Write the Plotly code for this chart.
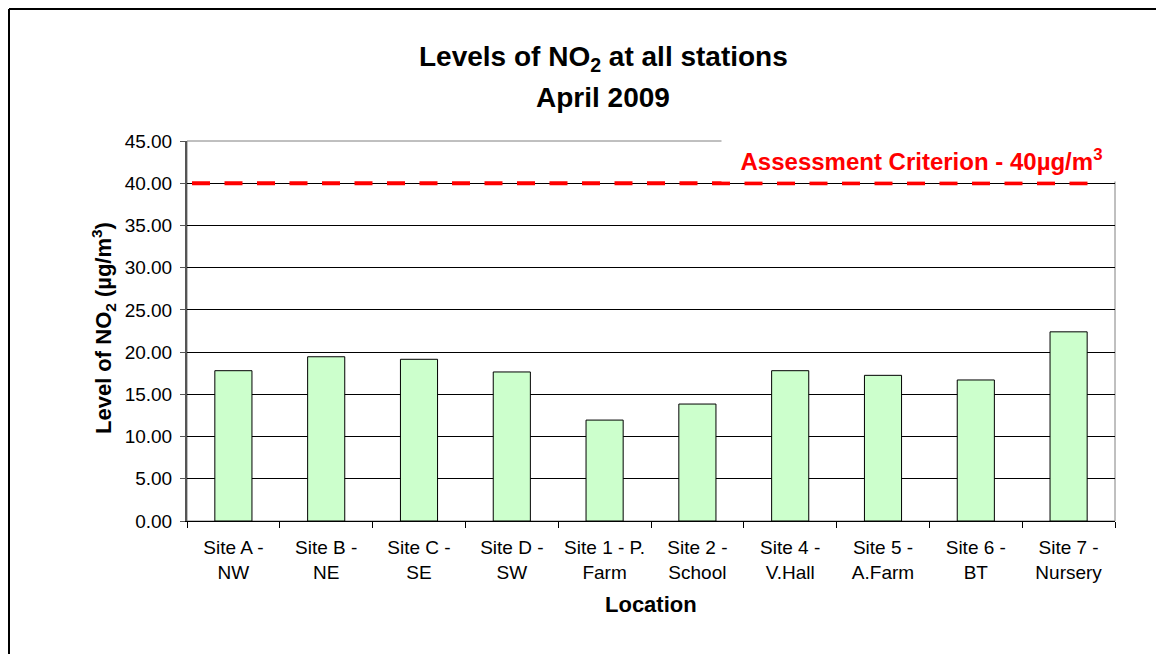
import plotly.graph_objects as go

categories = ["Site A -<br>NW", "Site B -<br>NE", "Site C -<br>SE", "Site D -<br>SW",
              "Site 1 - P.<br>Farm", "Site 2 -<br>School", "Site 4 -<br>V.Hall",
              "Site 5 -<br>A.Farm", "Site 6 -<br>BT", "Site 7 -<br>Nursery"]
no2_levels = [17.8, 19.45, 19.15, 17.65, 11.95, 13.85, 17.8, 17.25, 16.7, 22.4]
criterion = 40
y_ticks = [0, 5, 10, 15, 20, 25, 30, 35, 40, 45]

# page geometry (the page body has an 8px margin)
OFF = 8
W, H = 1164, 654
L, R, T, B = 187, 1115, 141, 521
PW, PH = R - L, B - T

def px(x):
    return (x - L) / PW

def py(y):
    return (B - y) / PH

FONT = "Liberation Sans, Arial, sans-serif"

fig = go.Figure()
fig.add_trace(go.Bar(
    x=categories, y=no2_levels,
    marker=dict(color="#CCFFCC", line=dict(color="black", width=1)),
    hoverinfo="x+y",
))

fig.update_layout(
    width=W - OFF, height=H - OFF,
    margin=dict(l=L - OFF, r=W - R, t=T - OFF, b=H - B, pad=0),
    paper_bgcolor="white", plot_bgcolor="white",
    showlegend=False, bargap=0.6,
    font=dict(family=FONT, size=19, color="black"),
    xaxis=dict(
        type="category", tickson="boundaries", ticks="outside", ticklen=6,
        tickcolor="black", showline=True, linecolor="black", linewidth=1,
        showgrid=False, tickfont=dict(size=19), ticklabelstandoff=9,
    ),
    yaxis=dict(
        range=[0, 45], tickvals=y_ticks, tickformat=".2f",
        ticks="outside", ticklen=5, tickcolor="#555", showline=True,
        linecolor="#555", linewidth=2, showgrid=True, gridcolor="black",
        gridwidth=1, zeroline=False, tickfont=dict(size=19), ticklabelstandoff=4,
    ),
)

shapes = [
    # plot area border
    dict(type="rect", xref="paper", yref="paper", x0=0, x1=1, y0=0, y1=1,
         line=dict(color="#808080", width=1), layer="below"),
    # criterion line
    dict(type="line", xref="paper", yref="y", x0=px(192), x1=px(1098),
         y0=criterion, y1=criterion,
         line=dict(color="#FF0000", width=4, dash="18px,14.5px")),
    # outer chart border (top and left)
    dict(type="line", xref="paper", yref="paper", x0=px(9), x1=px(1170),
         y0=py(9), y1=py(9), line=dict(color="black", width=2)),
    dict(type="line", xref="paper", yref="paper", x0=px(9), x1=px(9),
         y0=py(9), y1=py(660), line=dict(color="black", width=2)),
]
fig.update_layout(shapes=shapes)

annotations = [
    dict(text="<b>Levels of NO<sub>2</sub> at all stations</b>", xref="paper", yref="paper",
         x=px(603), y=py(58), xanchor="center", yanchor="middle", showarrow=False,
         font=dict(size=28, family=FONT)),
    dict(text="<b>April 2009</b>", xref="paper", yref="paper",
         x=px(603), y=py(97), xanchor="center", yanchor="middle", showarrow=False,
         font=dict(size=28, family=FONT)),
    dict(text="<b>Level of NO<sub>2</sub> (µg/m<sup>3</sup>)</b>", xref="paper", yref="paper",
         x=px(103), y=py(328), xanchor="center", yanchor="middle", textangle=-90,
         showarrow=False, font=dict(size=22, family=FONT)),
    dict(text="<b>Location</b>", xref="paper", yref="paper",
         x=0.5, y=py(604), xanchor="center", yanchor="middle", showarrow=False,
         font=dict(size=22, family=FONT)),
    dict(text="<b>Assessment Criterion - %dµg/m<sup>3</sup></b>" % criterion,
         xref="paper", yref="paper", x=px(721), y=py(138), xanchor="left", yanchor="top",
         width=399, height=42, borderpad=0, bgcolor="white", showarrow=False,
         align="center", valign="middle", font=dict(size=24, color="#FF0000", family=FONT)),
]
fig.update_layout(annotations=annotations)

fig.write_html("out.html")
